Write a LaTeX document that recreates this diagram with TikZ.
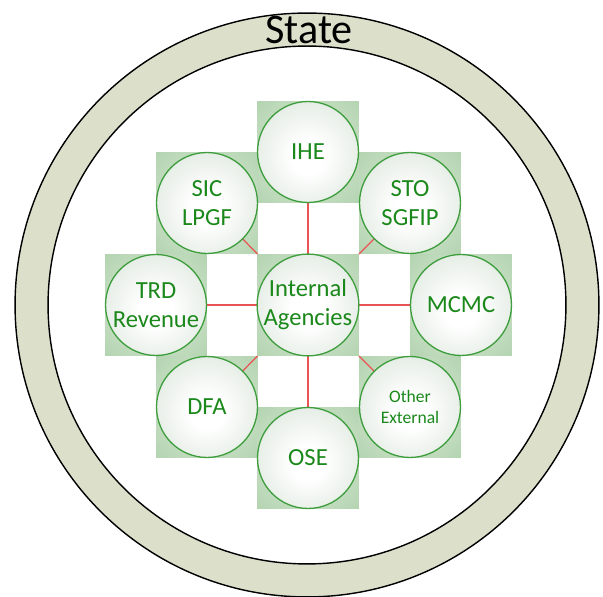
\documentclass[tikz,border=0pt]{standalone}
\usepackage{fontspec}
\setmainfont{Carlito}
\definecolor{ringfill}{RGB}{220,224,203}
\definecolor{sqin}{RGB}{220,236,217}
\definecolor{sqmid}{RGB}{180,212,177}
\definecolor{sqout}{RGB}{142,189,140}
\definecolor{cout}{RGB}{198,214,198}
\definecolor{cborder}{RGB}{62,158,62}
\definecolor{ctext}{RGB}{26,136,26}
\definecolor{linkred}{RGB}{234,84,84}
\pgfdeclareradialshading{sqshade}{\pgfpoint{0bp}{0bp}}{color(0bp)=(sqin); color(35bp)=(sqmid); color(71bp)=(sqout)}
\pgfdeclareradialshading{circshade}{\pgfpoint{0bp}{-3bp}}{color(0bp)=(white); color(8bp)=(white); color(50bp)=(cout)}
\begin{document}
\begin{tikzpicture}[x=0.02cm,y=-0.02cm,
  sqbox/.style={rectangle, minimum size=2.04cm, inner sep=0pt, outer sep=0pt, shade, shading=sqshade},
  circbox/.style={circle, minimum size=2.02cm, inner sep=0pt, outer sep=0pt, draw=cborder, line width=0.75pt, shade, shading=circshade, text=ctext, align=center, font=\fontsize{14}{16.5}\selectfont},
  link/.style={draw=linkred, line width=0.7pt}]
\useasboundingbox (0,0) rectangle (603,597);
% state ring
\path[fill=ringfill, even odd rule] (307,305) circle (5.84cm) (307,305) circle (5.18cm);
\draw[line width=0.8pt] (307,305) circle (5.84cm);
\draw[line width=0.8pt] (307,305) circle (5.18cm);
\node[font=\fontsize{24}{28}\selectfont] (state) at (309,30) {State};
% squares
\node[sqbox] (sqihe) at (308,152) {};
\node[sqbox] (sqsic) at (207,203) {};
\node[sqbox] (sqsto) at (410,203) {};
\node[sqbox] (sqtrd) at (156,305) {};
\node[sqbox] (sqint) at (308,305) {};
\node[sqbox] (sqmcmc) at (461,305) {};
\node[sqbox] (sqdfa) at (207,407) {};
\node[sqbox] (sqoth) at (410,407) {};
\node[sqbox] (sqose) at (308,458) {};
% circle centres
\coordinate (pihe) at (308,152);
\coordinate (psic) at (207,203);
\coordinate (psto) at (410,203);
\coordinate (ptrd) at (156,305);
\coordinate (pmcmc) at (461,305);
\coordinate (pdfa) at (207,407);
\coordinate (poth) at (410,407);
\coordinate (pose) at (308,458);
% links
\foreach \t in {pihe,psic,psto,ptrd,pmcmc,pdfa,poth,pose}
  \path[link] (sqint) -- (\t);
% circles
\node[circbox] (ihe) at (pihe) {IHE};
\node[circbox] (sic) at (psic) {SIC\\LPGF};
\node[circbox] (sto) at (psto) {STO\\SGFIP};
\node[circbox] (trd) at (ptrd) {TRD\\Revenue};
\node[circbox] (int) at (308,305) {Internal\\Agencies};
\node[circbox] (mcmc) at (pmcmc) {MCMC};
\node[circbox] (dfa) at (pdfa) {DFA};
\node[circbox, font=\fontsize{10}{12}\selectfont] (oth) at (poth) {Other\\External};
\node[circbox] (ose) at (pose) {OSE};
\end{tikzpicture}
\end{document}
